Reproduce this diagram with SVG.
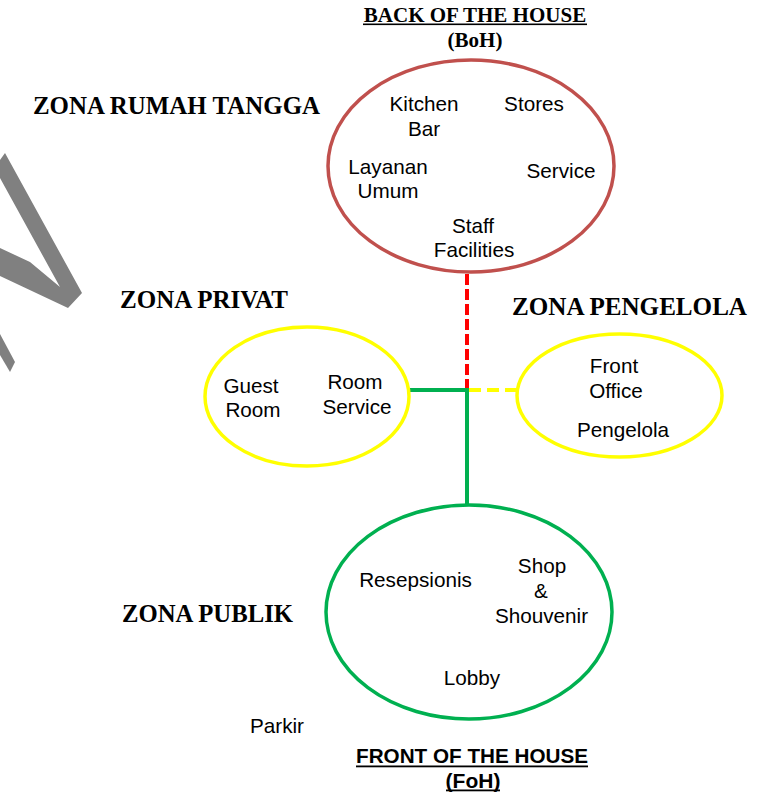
<svg xmlns="http://www.w3.org/2000/svg" width="769" height="793" viewBox="0 0 769 793">
<style>
.t{font-family:"Liberation Sans",Arial,sans-serif;font-size:20.7px;fill:#000;text-anchor:middle}
.z{font-family:"Liberation Serif","Times New Roman",serif;font-weight:bold;font-size:24.5px;fill:#000}
.h{font-family:"Liberation Serif","Times New Roman",serif;font-weight:bold;font-size:21px;fill:#000;text-anchor:middle}
.f{font-family:"Liberation Sans",Arial,sans-serif;font-weight:bold;font-size:21px;fill:#000;text-anchor:middle}
.e{fill:none}
</style>
<rect width="769" height="793" fill="#fff"/>
<g id="watermark" fill="#808080">
<polygon points="0,160 5,153 82,293 68,308 0,276 0,248 30,262 60,287 0,178"/>
<polygon points="0,334 15,362 10,372 0,355"/>
</g>
<g id="headings">
<text class="h" x="475" y="22">BACK OF THE HOUSE</text>
<rect x="363" y="23.5" width="224" height="1.6" fill="#000"/>
<text class="h" x="475" y="47">(BoH)</text>
<text class="f" x="472" y="763" textLength="232" lengthAdjust="spacingAndGlyphs">FRONT OF THE HOUSE</text>
<rect x="356" y="765.5" width="232" height="1.8" fill="#000"/>
<text class="f" x="473" y="788">(FoH)</text>
<rect x="446" y="789.5" width="54" height="1.8" fill="#000"/>
<text class="z" x="33" y="114" textLength="287" lengthAdjust="spacingAndGlyphs">ZONA RUMAH TANGGA</text>
<text class="z" x="120" y="308" textLength="168" lengthAdjust="spacingAndGlyphs">ZONA PRIVAT</text>
<text class="z" x="512" y="315" textLength="235" lengthAdjust="spacingAndGlyphs">ZONA PENGELOLA</text>
<text class="z" x="122" y="622" textLength="171" lengthAdjust="spacingAndGlyphs">ZONA PUBLIK</text>
<text class="t" x="277" y="733">Parkir</text>
</g>
<g id="connectors">
<line x1="467" y1="274" x2="467" y2="390" stroke="#ff0000" stroke-width="4" stroke-dasharray="11,4"/>
<line x1="469" y1="390" x2="517" y2="390" stroke="#ffff00" stroke-width="4" stroke-dasharray="12,6"/>
<line x1="410" y1="390" x2="469" y2="390" stroke="#00b050" stroke-width="4"/>
<line x1="467" y1="390" x2="467" y2="504" stroke="#00b050" stroke-width="4"/>
</g>
<g id="boh">
<ellipse class="e" cx="471" cy="166" rx="143" ry="106" stroke="#c0504d" stroke-width="3.5"/>
<text class="t" x="424" y="111">Kitchen</text>
<text class="t" x="424" y="136">Bar</text>
<text class="t" x="534" y="111">Stores</text>
<text class="t" x="388" y="174">Layanan</text>
<text class="t" x="388" y="198">Umum</text>
<text class="t" x="561" y="178">Service</text>
<text class="t" x="473" y="233">Staff</text>
<text class="t" x="474" y="257">Facilities</text>
</g>
<g id="privat">
<ellipse class="e" cx="307" cy="396.5" rx="102" ry="69.5" stroke="#ffff00" stroke-width="3.5"/>
<text class="t" x="251" y="393">Guest</text>
<text class="t" x="253" y="417">Room</text>
<text class="t" x="355" y="389">Room</text>
<text class="t" x="357" y="414">Service</text>
</g>
<g id="pengelola">
<ellipse class="e" cx="619.5" cy="395.5" rx="102.5" ry="61.5" stroke="#ffff00" stroke-width="3.5"/>
<text class="t" x="614" y="373">Front</text>
<text class="t" x="616" y="398">Office</text>
<text class="t" x="623" y="437">Pengelola</text>
</g>
<g id="foh">
<ellipse class="e" cx="469" cy="612" rx="143" ry="107" stroke="#00b050" stroke-width="3.5"/>
<text class="t" x="415.5" y="587">Resepsionis</text>
<text class="t" x="542" y="573">Shop</text>
<text class="t" x="541" y="598">&amp;</text>
<text class="t" x="541.5" y="623">Shouvenir</text>
<text class="t" x="472" y="685">Lobby</text>
</g>
</svg>
